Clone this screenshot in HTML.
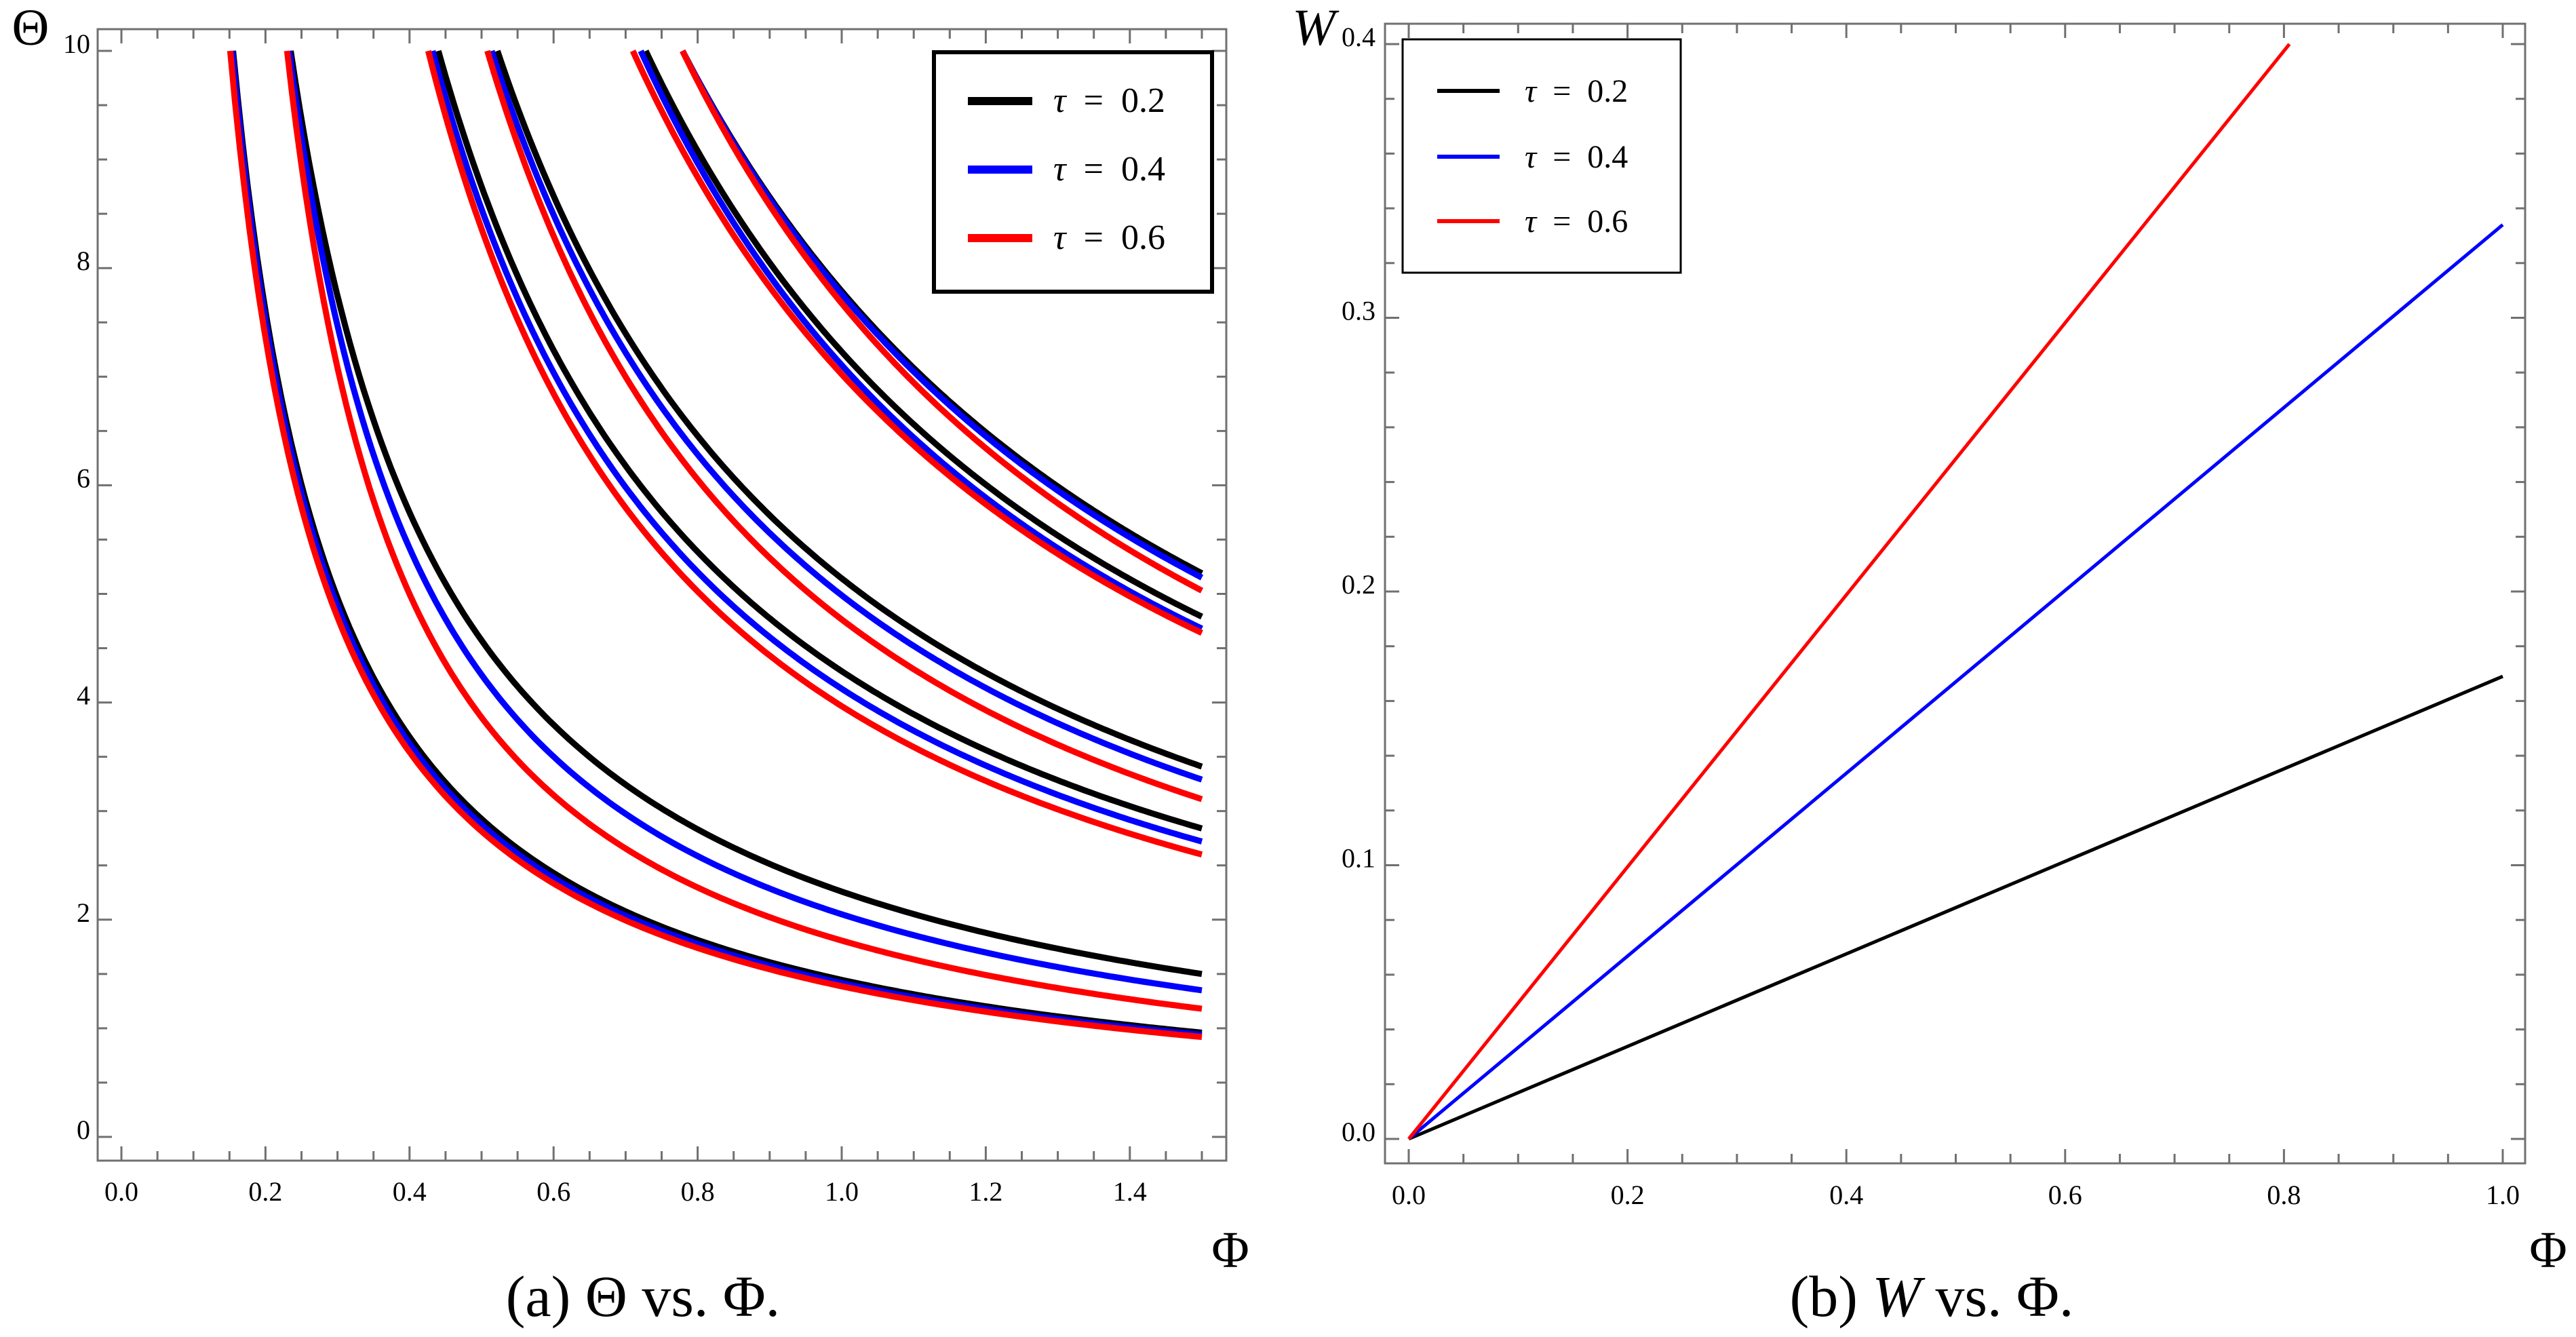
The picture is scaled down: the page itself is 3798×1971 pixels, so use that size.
<!DOCTYPE html>
<html><head><meta charset="utf-8"><style>
html,body{margin:0;padding:0;background:#fff;}
svg{display:block;font-family:"Liberation Serif",serif;}
</style></head><body>
<svg id="fig" width="3798" height="1971" viewBox="0 0 3798 1971" xmlns="http://www.w3.org/2000/svg">
<g id="pa"></g>
<g id="pb"></g>
<text x="45" y="66" font-size="76" text-anchor="middle">Θ</text>
<text x="1814" y="1868" font-size="76" text-anchor="middle">Φ</text>
<text x="948" y="1940" font-size="86" text-anchor="middle">(a) Θ vs. Φ.</text>
<text x="1937" y="66" font-size="76" font-style="italic" text-anchor="middle">W</text>
<text x="3757" y="1868" font-size="76" text-anchor="middle">Φ</text>
<text x="2848" y="1940" font-size="86" text-anchor="middle">(b) <tspan font-style="italic">W</tspan> vs. Φ.</text>
</svg>
<script>
// Panel A data: each curve Θ = c/(Φ-d), defined by Φ where Θ=10 and Θ at Φ=1.5
const seriesNames = ["τ = 0.2","τ = 0.4","τ = 0.6"];
const seriesValues = ["0.2","0.4","0.6"];
const seriesColors = ["#000","#00f","#f00"];
const startPhiBlack = [0.155,0.235,0.440,0.522,0.728,0.779];
const startPhiBlue  = [0.154,0.233,0.432,0.514,0.721,0.779];
const startPhiRed   = [0.151,0.230,0.426,0.508,0.710,0.779];
const endThetaBlack = [0.96,1.50,2.84,3.41,4.79,5.19];
const endThetaBlue  = [0.94,1.35,2.72,3.29,4.68,5.15];
const endThetaRed   = [0.92,1.18,2.60,3.11,4.64,5.03];
const xTicksA = ["0.0","0.2","0.4","0.6","0.8","1.0","1.2","1.4"];
const yTicksA = ["0","2","4","6","8","10"];
// Panel B data: straight lines from origin to endpoint
const endPhiB = [1.0,1.0,0.805];
const endWB   = [0.169,0.334,0.4];
const xTicksB = ["0.0","0.2","0.4","0.6","0.8","1.0"];
const yTicksB = ["0.0","0.1","0.2","0.3","0.4"];

const NS="http://www.w3.org/2000/svg";
function mk(parent,tag,attrs){const e=document.createElementNS(NS,tag);for(const k in attrs)e.setAttribute(k,attrs[k]);parent.appendChild(e);return e;}

function frame(g,L,R,T,B,xs,ys,xMin,xMax,xMinor,yMin,yMax,yMinor,xLabels,xStep,yLabels,yStep,xLabY,yLabX,fs){
  const f=mk(g,'rect',{x:L,y:T,width:R-L,height:B-T,fill:'none',stroke:'#707070','stroke-width':3});
  
  
  const n=Math.round((xMax-xMin)/xMinor);
  for(let i=0;i<=n;i++){const v=xMin+i*xMinor;const px=xs(v);if(px<L||px>R)continue;
    const major=Math.abs(v/xStep-Math.round(v/xStep))<1e-6;const len=major?21:14;
    const t1=mk(g,'line',{x1:px,x2:px,y1:B,y2:B-len,stroke:'#707070','stroke-width':3});
    
    
    const t2=mk(g,'line',{x1:px,x2:px,y1:T,y2:T+len,stroke:'#707070','stroke-width':3});
    
    }
  const m=Math.round((yMax-yMin)/yMinor);
  for(let i=0;i<=m;i++){const v=yMin+i*yMinor;const py=ys(v);if(py<T||py>B)continue;
    const major=Math.abs(v/yStep-Math.round(v/yStep))<1e-6;const len=major?21:14;
    const t1=mk(g,'line',{x1:L,x2:L+len,y1:py,y2:py,stroke:'#707070','stroke-width':3});
    
    
    const t2=mk(g,'line',{x1:R,x2:R-len,y1:py,y2:py,stroke:'#707070','stroke-width':3});
    
    }
  xLabels.forEach((s,i)=>{const t=mk(g,'text',{x:xs(i*xStep),y:xLabY,'font-size':fs,'text-anchor':'middle'});t.textContent=s;
    
    });
  yLabels.forEach((s,i)=>{const t=mk(g,'text',{x:yLabX,y:ys(i*yStep)+3,'font-size':fs,'text-anchor':'end'});t.textContent=s;
    
    });
}

function legend(g,x,y,w,h,bw,lx1,lx2,ly,lw,tx,fs){
  const r=mk(g,'rect',{x:x,y:y,width:w,height:h,fill:'#fff',stroke:'#000','stroke-width':bw});
  
  
  seriesNames.forEach((s,i)=>{
    const l=mk(g,'line',{x1:lx1,x2:lx2,y1:ly[i],y2:ly[i],stroke:seriesColors[i],'stroke-width':lw});
    
    
    const t=mk(g,'text',{x:tx,y:ly[i]+16,'font-size':fs});
    const a=mk(t,'tspan',{'font-style':'italic'});a.textContent='τ';
    const b=mk(t,'tspan',{});b.textContent='\u00a0\u00a0=\u00a0\u00a0'+seriesValues[i];
    
    
  });
}

// Panel A
(function(){
  const g=document.getElementById('pa');
  const L=144,R=1808,T=43,B=1711;
  const x0=179,xu=1062,y0=1676,yu=160.1;
  const xs=v=>x0+v*xu, ys=v=>y0-v*yu;
  frame(g,L,R,T,B,xs,ys,0,1.55,0.05,0,10.2,0.5,xTicksA,0.2,yTicksA,2,1770,133,40);
  const starts=[startPhiBlack,startPhiBlue,startPhiRed];
  const ends=[endThetaBlack,endThetaBlue,endThetaRed];
  for(let k=0;k<startPhiBlack.length;k++){
    for(let s=0;s<3;s++){
      const ps=starts[s][k], te=ends[s][k];
      const d=(10*ps-1.5*te)/(10-te), c=10*(ps-d);
      let pts=[];
      for(let i=0;i<=200;i++){const p=ps+(1.5-ps)*i/200;pts.push(xs(p).toFixed(1)+','+ys(c/(p-d)).toFixed(1));}
      const pl=mk(g,'polyline',{points:pts.join(' '),fill:'none',stroke:seriesColors[s],'stroke-width':9});
      
      
    }
  }
  legend(g,1377,77,410,353,6,1427,1522,[149,250,351],12,1553,52);
})();

// Panel B
(function(){
  const g=document.getElementById('pb');
  const L=2042,R=3723,T=35,B=1715;
  const x0=2077,xu=1613,y0=1679,yu=4035;
  const xs=v=>x0+v*xu, ys=v=>y0-v*yu;
  frame(g,L,R,T,B,xs,ys,0,1.02,0.05,0,0.41,0.02,xTicksB,0.2,yTicksB,0.1,1775,2028,40);
  for(let s=0;s<3;s++){
    const ln=mk(g,'line',{x1:xs(0),y1:ys(0),x2:xs(endPhiB[s]),y2:ys(endWB[s]),stroke:seriesColors[s],'stroke-width':5});
    
    
  }
  legend(g,2068,58,410,344,3,2119,2211,[134,231,326],6,2248,48);
})();
</script>
</body></html>
